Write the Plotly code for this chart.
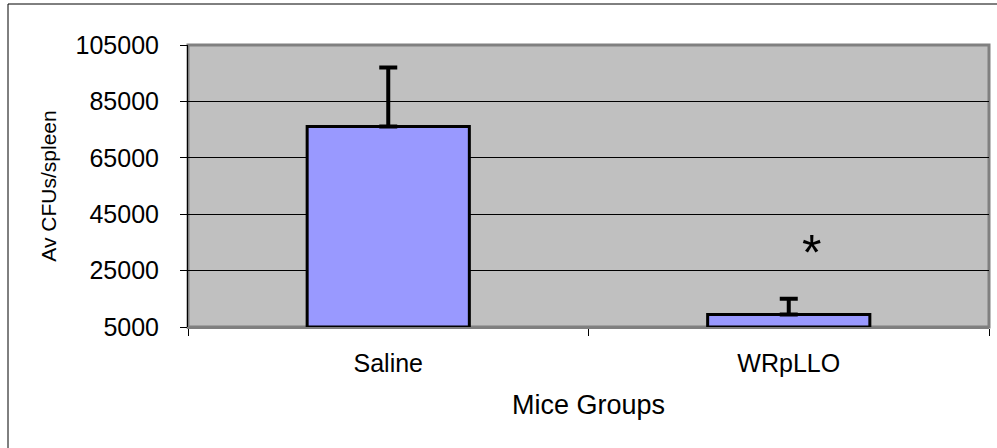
import plotly.graph_objects as go

# ---- data ----
categories = ["Saline", "WRpLLO"]
mean_cfu = [76100, 9400]
err_plus = [20900, 5600]
y_min = 5000
y_max = 105000
y_ticks = [5000, 25000, 45000, 65000, 85000, 105000]
y_tick_labels = ["5000", "25000", "45000", "65000", "85000", "105000"]
star_label = "*"
star_value = 33400

FONT = "Liberation Sans, Arial, sans-serif"

fig = go.Figure()
fig.add_trace(go.Bar(
    x=categories,
    y=[v - y_min for v in mean_cfu],
    base=y_min,
    width=0.405,
    marker=dict(color="#9999FF", line=dict(color="black", width=3)),
    error_y=dict(type="data", symmetric=False, array=err_plus,
                 arrayminus=[0, 0], color="black", thickness=4, width=9),
    showlegend=False,
    hoverinfo="skip",
))

fig.add_annotation(x=categories[1], y=star_value, xref="x", yref="y",
                   text=star_label, showarrow=False, xshift=23, yshift=-6,
                   font=dict(family=FONT, size=50, color="black"))

# plot area border (grey)
fig.add_shape(type="rect", xref="x domain", yref="y domain", x0=0, x1=1, y0=0, y1=1,
              line=dict(color="#808080", width=3), layer="below")

# outer chart border
W, H = 997, 448
L, R, T, B = 188, 8, 45, 121
pw, ph = W - L - R, H - T - B
fig.add_shape(type="rect", xref="paper", yref="paper",
              x0=(8 - L) / pw, x1=(1005 - L) / pw,
              y0=(H - B - 460) / ph, y1=(H - B - 4) / ph,
              line=dict(color="black", width=1), fillcolor="rgba(0,0,0,0)", layer="above")

fig.update_layout(
    width=W, height=H,
    margin=dict(l=L, r=R, t=T, b=B, autoexpand=False),
    paper_bgcolor="white", plot_bgcolor="#C0C0C0",
    font=dict(family=FONT, color="black"),
    bargap=0.6,
)
fig.update_xaxes(
    type="category", tickson="boundaries", ticks="outside", ticklen=7,
    tickcolor="black", tickwidth=1, showline=True, linecolor="#7f7f7f", linewidth=2,
    tickfont=dict(size=25), ticklabelstandoff=13, automargin=False,
    title=dict(text="Mice Groups", font=dict(size=27), standoff=19),
    showgrid=False, range=[-0.5, 1.5],
)
fig.update_yaxes(
    range=[y_min, y_max], tickvals=y_ticks, ticktext=y_tick_labels,
    ticks="outside", ticklen=7, tickcolor="black", tickwidth=1,
    showline=True, linecolor="black", linewidth=1, automargin=False,
    showgrid=True, gridcolor="black", gridwidth=1, zeroline=False,
    tickfont=dict(size=25), ticklabelstandoff=16,
    title=dict(text="Av CFUs/spleen", font=dict(size=21), standoff=13),
)

fig.write_html("out.html", config={"displayModeBar": False},
               post_script="document.body.style.margin='0';")
